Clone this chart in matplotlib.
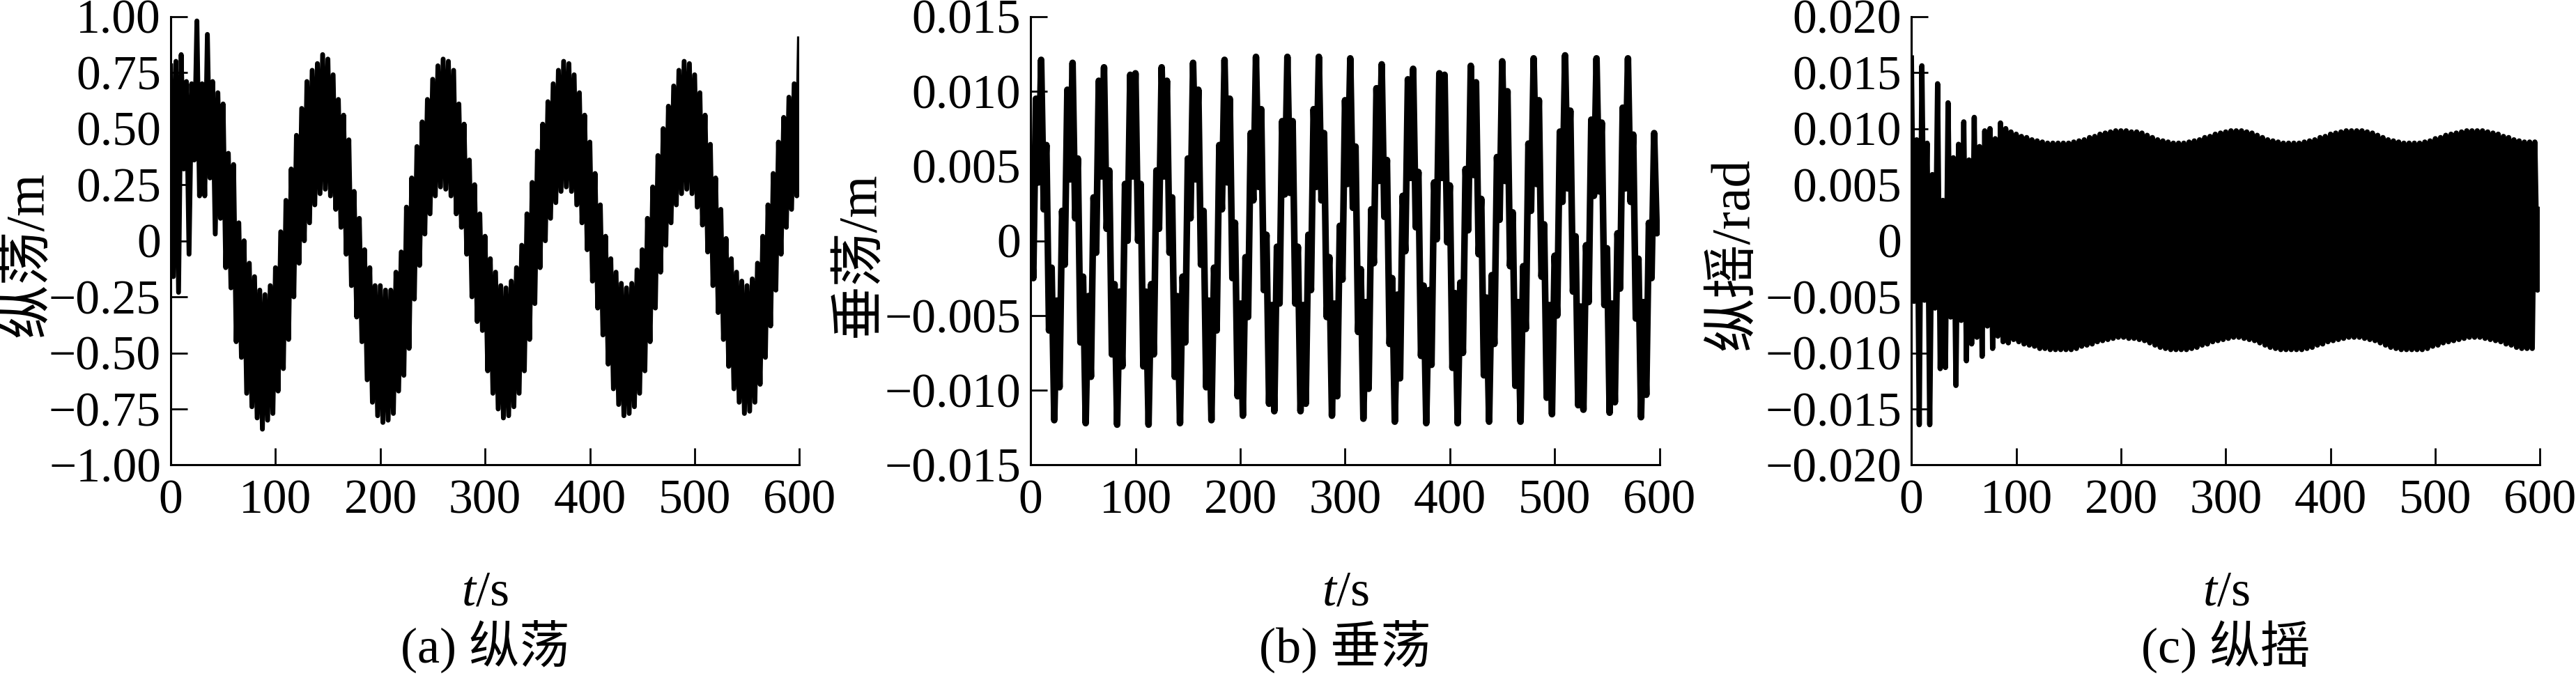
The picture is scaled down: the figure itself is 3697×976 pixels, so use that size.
import numpy as np
import matplotlib
matplotlib.use('Agg')
import matplotlib.pyplot as plt

plt.rcParams['font.family'] = ['Liberation Serif', 'Noto Sans CJK SC']
plt.rcParams['mathtext.fontset'] = 'custom'
plt.rcParams['mathtext.rm'] = 'Liberation Serif'
plt.rcParams['mathtext.it'] = 'Liberation Serif:italic'

# 纵荡: 每5 s 的局部极大值 (t = 0, 5, ..., 600) 和局部极小值 (t = 2.5, 7.5, ..., 597.5)
surge_peak = [
    0.78, 0.80, 0.83, 0.71, 0.70, 0.98, 0.70, 0.92, 0.71, 0.66,
    0.61, 0.39, 0.34, 0.08, 0.00, -0.10, -0.16, -0.22, -0.24, -0.20,
    -0.12, 0.04, 0.18, 0.32, 0.47, 0.59, 0.71, 0.76, 0.79, 0.83,
    0.81, 0.74, 0.63, 0.56, 0.45, 0.22, 0.10, -0.04, -0.12, -0.20,
    -0.20, -0.22, -0.22, -0.14, -0.05, 0.15, 0.28, 0.42, 0.53, 0.63,
    0.72, 0.78, 0.81, 0.80, 0.76, 0.61, 0.52, 0.36, 0.25, 0.12,
    0.02, -0.08, -0.14, -0.20, -0.21, -0.18, -0.12, -0.02, 0.12, 0.26,
    0.40, 0.52, 0.62, 0.70, 0.76, 0.80, 0.79, 0.74, 0.66, 0.56,
    0.44, 0.30, 0.16, 0.02, -0.08, -0.14, -0.19, -0.21, -0.19, -0.13,
    -0.04, 0.10, 0.24, 0.38, 0.50, 0.60, 0.69, 0.76, 0.80, 0.79,
    0.74, 0.66, 0.56, 0.43, 0.28, 0.14, 0.01, -0.08, -0.14, -0.18,
    -0.20, -0.17, -0.10, 0.02, 0.16, 0.30, 0.44, 0.55, 0.64, 0.70,
    0.90]
surge_trough = [
    -0.16, -0.23, 0.32, -0.06, 0.36, 0.20, 0.20, 0.28, 0.03, 0.10,
    -0.12, -0.21, -0.45, -0.52, -0.68, -0.74, -0.79, -0.84, -0.80, -0.77,
    -0.67, -0.57, -0.44, -0.25, -0.10, 0.00, 0.08, 0.16, 0.21, 0.23,
    0.20, 0.14, 0.06, -0.06, -0.20, -0.34, -0.45, -0.62, -0.72, -0.78,
    -0.81, -0.80, -0.77, -0.67, -0.60, -0.48, -0.26, -0.11, 0.03, 0.12,
    0.20, 0.24, 0.23, 0.20, 0.12, 0.06, -0.06, -0.25, -0.36, -0.40,
    -0.58, -0.68, -0.75, -0.79, -0.78, -0.74, -0.68, -0.58, -0.44, -0.28,
    -0.12, 0.00, 0.10, 0.17, 0.22, 0.24, 0.22, 0.16, 0.08, -0.04,
    -0.18, -0.30, -0.42, -0.55, -0.66, -0.73, -0.78, -0.77, -0.74, -0.68,
    -0.58, -0.45, -0.30, -0.14, -0.02, 0.08, 0.16, 0.21, 0.23, 0.21,
    0.15, 0.07, -0.05, -0.20, -0.32, -0.44, -0.56, -0.66, -0.72, -0.77,
    -0.76, -0.72, -0.64, -0.52, -0.38, -0.22, -0.06, 0.06, 0.14, 0.20]

# 垂荡
heave_peak = [
    0.0012, 0.0095, 0.0121, 0.0064, -0.0018, -0.0040, 0.0020, 0.0101, 0.0119, 0.0055,
    -0.0024, -0.0037, 0.0029, 0.0107, 0.0116, 0.0047, -0.0029, -0.0034, 0.0038, 0.0111,
    0.0112, 0.0038, -0.0034, -0.0029, 0.0047, 0.0116, 0.0107, 0.0029, -0.0037, -0.0024,
    0.0055, 0.0119, 0.0101, 0.0020, -0.0040, -0.0018, 0.0064, 0.0121, 0.0095, 0.0012,
    -0.0042, -0.0011, 0.0072, 0.0123, 0.0088, 0.0004, -0.0043, -0.0004, 0.0080, 0.0123,
    0.0080, -0.0004, -0.0043, 0.0004, 0.0088, 0.0123, 0.0072, -0.0011, -0.0042, 0.0010,
    0.0094, 0.0122, 0.0063, -0.0019, -0.0041, 0.0021, 0.0102, 0.0118, 0.0054, -0.0025,
    -0.0036, 0.0030, 0.0108, 0.0115, 0.0046, -0.0030, -0.0033, 0.0039, 0.0112, 0.0111,
    0.0037, -0.0035, -0.0028, 0.0048, 0.0117, 0.0106, 0.0028, -0.0038, -0.0023, 0.0056,
    0.0120, 0.0100, 0.0019, -0.0041, -0.0017, 0.0065, 0.0122, 0.0094, 0.0011, -0.0043,
    -0.0010, 0.0073, 0.0124, 0.0087, 0.0003, -0.0044, -0.0003, 0.0081, 0.0122, 0.0079,
    -0.0005, -0.0042, 0.0005, 0.0089, 0.0122, 0.0071, -0.0012, -0.0041, 0.0012, 0.0072,
    0.0010]
heave_trough = [
    -0.0025, 0.0039, 0.0021, -0.0060, -0.0120, -0.0098, -0.0016, 0.0041, 0.0015, -0.0068,
    -0.0122, -0.0091, -0.0008, 0.0043, 0.0008, -0.0076, -0.0123, -0.0084, 0.0000, 0.0043,
    0.0000, -0.0084, -0.0123, -0.0076, 0.0008, 0.0043, -0.0008, -0.0091, -0.0122, -0.0068,
    0.0015, 0.0041, -0.0016, -0.0098, -0.0120, -0.0060, 0.0021, 0.0039, -0.0025, -0.0104,
    -0.0117, -0.0051, 0.0027, 0.0036, -0.0033, -0.0109, -0.0114, -0.0042, 0.0031, 0.0032,
    -0.0042, -0.0114, -0.0109, -0.0033, 0.0036, 0.0027, -0.0051, -0.0117, -0.0104, -0.0026,
    0.0038, 0.0022, -0.0061, -0.0119, -0.0099, -0.0015, 0.0040, 0.0016, -0.0069, -0.0121,
    -0.0092, -0.0007, 0.0042, 0.0009, -0.0077, -0.0122, -0.0083, 0.0001, 0.0042, -0.0001,
    -0.0085, -0.0122, -0.0075, 0.0007, 0.0044, -0.0009, -0.0090, -0.0121, -0.0069, 0.0014,
    0.0040, -0.0017, -0.0097, -0.0121, -0.0059, 0.0020, 0.0038, -0.0024, -0.0105, -0.0116,
    -0.0050, 0.0026, 0.0035, -0.0034, -0.0110, -0.0113, -0.0041, 0.0030, 0.0033, -0.0043,
    -0.0115, -0.0108, -0.0032, 0.0035, 0.0026, -0.0052, -0.0118, -0.0103, -0.0025, 0.0005]

# 纵摇
pitch_peak = [
    0.0163, 0.0090, 0.0156, 0.0087, 0.0059, 0.0140, 0.0036, 0.0123, 0.0074, 0.0086,
    0.0106, 0.0072, 0.0110, 0.0084, 0.0098, 0.0100, 0.0091, 0.0105, 0.0100, 0.0097,
    0.0095, 0.0093, 0.0092, 0.0090, 0.0089, 0.0088, 0.0087, 0.0087, 0.0087, 0.0087,
    0.0087, 0.0088, 0.0089, 0.0090, 0.0092, 0.0093, 0.0095, 0.0096, 0.0097, 0.0098,
    0.0098, 0.0098, 0.0097, 0.0097, 0.0096, 0.0094, 0.0092, 0.0090, 0.0089, 0.0088,
    0.0087, 0.0087, 0.0087, 0.0088, 0.0089, 0.0090, 0.0092, 0.0093, 0.0095, 0.0096,
    0.0097, 0.0098, 0.0098, 0.0098, 0.0097, 0.0096, 0.0094, 0.0092, 0.0090, 0.0089,
    0.0088, 0.0087, 0.0087, 0.0087, 0.0087, 0.0088, 0.0089, 0.0090, 0.0092, 0.0093,
    0.0095, 0.0096, 0.0097, 0.0098, 0.0098, 0.0098, 0.0098, 0.0097, 0.0096, 0.0094,
    0.0092, 0.0090, 0.0089, 0.0088, 0.0087, 0.0087, 0.0087, 0.0087, 0.0088, 0.0089,
    0.0091, 0.0092, 0.0094, 0.0095, 0.0096, 0.0097, 0.0098, 0.0098, 0.0098, 0.0098,
    0.0097, 0.0096, 0.0095, 0.0093, 0.0092, 0.0090, 0.0089, 0.0088, 0.0088, 0.0088,
    0.0028]
pitch_trough = [
    -0.0054, -0.0164, -0.0053, -0.0164, -0.0060, -0.0114, -0.0113, -0.0068, -0.0129, -0.0071,
    -0.0107, -0.0092, -0.0086, -0.0103, -0.0076, -0.0096, -0.0085, -0.0090, -0.0091, -0.0088,
    -0.0090, -0.0092, -0.0093, -0.0094, -0.0096, -0.0096, -0.0097, -0.0097, -0.0097, -0.0097,
    -0.0097, -0.0096, -0.0094, -0.0093, -0.0092, -0.0090, -0.0089, -0.0088, -0.0087, -0.0086,
    -0.0086, -0.0087, -0.0087, -0.0088, -0.0089, -0.0091, -0.0093, -0.0095, -0.0096, -0.0097,
    -0.0097, -0.0097, -0.0097, -0.0096, -0.0095, -0.0093, -0.0092, -0.0090, -0.0089, -0.0088,
    -0.0087, -0.0086, -0.0086, -0.0087, -0.0088, -0.0089, -0.0091, -0.0093, -0.0095, -0.0096,
    -0.0097, -0.0097, -0.0097, -0.0097, -0.0097, -0.0096, -0.0095, -0.0093, -0.0092, -0.0090,
    -0.0089, -0.0088, -0.0087, -0.0086, -0.0086, -0.0086, -0.0087, -0.0088, -0.0089, -0.0091,
    -0.0093, -0.0095, -0.0096, -0.0097, -0.0097, -0.0097, -0.0097, -0.0097, -0.0096, -0.0094,
    -0.0093, -0.0091, -0.0090, -0.0089, -0.0088, -0.0087, -0.0086, -0.0086, -0.0086, -0.0087,
    -0.0088, -0.0089, -0.0090, -0.0092, -0.0093, -0.0095, -0.0096, -0.0096, -0.0096, -0.0044]

t_peak = np.arange(len(surge_peak)) * 5.0
t_trough = 2.5 + np.arange(len(surge_trough)) * 5.0

x_ticks = [0, 100, 200, 300, 400, 500, 600]
surge_ticks = [-1.0, -0.75, -0.5, -0.25, 0, 0.25, 0.5, 0.75, 1.0]
surge_labels = ['\u22121.00', '\u22120.75', '\u22120.50', '\u22120.25', '0', '0.25', '0.50', '0.75', '1.00']
heave_ticks = [-0.015, -0.01, -0.005, 0, 0.005, 0.01, 0.015]
heave_labels = ['\u22120.015', '\u22120.010', '\u22120.005', '0', '0.005', '0.010', '0.015']
pitch_ticks = [-0.02, -0.015, -0.01, -0.005, 0, 0.005, 0.01, 0.015, 0.02]
pitch_labels = ['\u22120.020', '\u22120.015', '\u22120.010', '\u22120.005', '0',
                '0.005', '0.010', '0.015', '0.020']


def zigzag(peak, trough):
    t = np.empty(len(peak) + len(trough))
    y = np.empty_like(t)
    t[0::2] = t_peak
    t[1::2] = t_trough
    y[0::2] = peak
    y[1::2] = trough
    return t, y


panels = [
    (surge_peak, surge_trough, surge_ticks, surge_labels, '纵荡/m', '(a) 纵荡', 0.06625, -0.226, 5.0),
    (heave_peak, heave_trough, heave_ticks, heave_labels, '垂荡/m', '(b) 垂荡', 0.4000, -0.272, 6.8),
    (pitch_peak, pitch_trough, pitch_ticks, pitch_labels, '纵摇/rad', '(c) 纵摇', 0.7418, -0.281, 5.4),
]

fig = plt.figure(figsize=(36.98, 9.76), dpi=100)

for peak, trough, yt, yl, ylab, cap, left, ylab_x, lw in panels:
    ax = fig.add_axes([left, 0.3161, 0.2440, 0.6597])
    t, y = zigzag(peak, trough)
    ax.plot(t, y, color='black', lw=lw)
    ax.set_xlim(0, 600)
    ax.set_ylim(yt[0], yt[-1])
    ax.set_xticks(x_ticks)
    ax.set_xticklabels([str(v) for v in x_ticks])
    ax.set_yticks(yt)
    ax.set_yticklabels(yl)
    for s in ['top', 'right']:
        ax.spines[s].set_visible(False)
    for s in ['left', 'bottom']:
        ax.spines[s].set_linewidth(2.2)
    ax.tick_params(direction='in', length=17, width=2, labelsize=50)
    ax.tick_params(axis='x', pad=15)
    ax.tick_params(axis='y', pad=10)
    ax.text(ylab_x, 0.47, ylab, rotation=90, ha='center', va='center',
            transform=ax.transAxes, fontsize=56)
    ax.text(0.5, -0.285, r'$t$/s', ha='center', va='center',
            transform=ax.transAxes, fontsize=52)
    ax.text(0.5, -0.405, cap, ha='center', va='center',
            transform=ax.transAxes, fontsize=52)

fig.savefig('out.png', dpi=100)
